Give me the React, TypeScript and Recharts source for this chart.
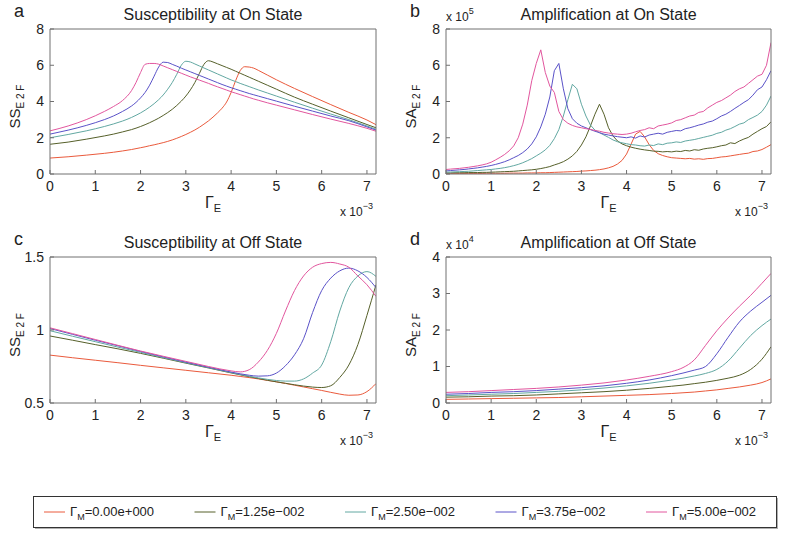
import React from "react";
import { LineChart, Line, XAxis, YAxis } from "recharts";

const FONT = "'Liberation Sans', Arial, Helvetica, sans-serif";
const TEXT = "#222";
const AXIS = "#707070";

const gammaLabels = ["0.00e+000", "1.25e-002", "2.50e-002", "3.75e-002", "5.00e-002"];
const seriesColors = ["#ea5a3c", "#56602a", "#62a8a2", "#5a52c8", "#e2569e"];
const seriesKeys = ["g0", "g1", "g2", "g3", "g4"];

const xTicks = [0, 1, 2, 3, 4, 5, 6, 7];
const yTicksOn = [0, 2, 4, 6, 8];
const yTicksSsOff = [0.5, 1, 1.5];
const yTicksSaOff = [0, 1, 2, 3, 4];

// a: susceptibility, on state
const xSsOn = [0, 0.4, 0.8, 1.2, 1.4, 1.6, 1.8, 1.9, 2.0, 2.1, 2.2, 2.3, 2.4, 2.5, 2.6, 2.7, 2.8, 2.9, 3.0, 3.1, 3.2, 3.3, 3.4, 3.5, 3.6, 3.7, 3.8, 3.9, 4.0, 4.1, 4.2, 4.3, 4.4, 4.5, 4.6, 4.8, 5.0, 5.4, 5.8, 6.2, 6.6, 7.0, 7.2];
const ssOnG0 = [0.88, 0.95, 1.04, 1.14, 1.2, 1.27, 1.35, 1.4, 1.45, 1.5, 1.56, 1.61, 1.67, 1.73, 1.8, 1.88, 1.97, 2.07, 2.18, 2.3, 2.43, 2.58, 2.75, 2.93, 3.14, 3.37, 3.63, 3.97, 4.5, 5.15, 5.7, 5.92, 5.9, 5.84, 5.72, 5.46, 5.2, 4.72, 4.27, 3.83, 3.4, 2.98, 2.72];
const ssOnG1 = [1.64, 1.76, 1.92, 2.1, 2.2, 2.32, 2.45, 2.53, 2.62, 2.72, 2.83, 2.95, 3.08, 3.23, 3.39, 3.57, 3.78, 4.02, 4.3, 4.64, 5.05, 5.55, 6.05, 6.25, 6.18, 6.08, 5.98, 5.88, 5.78, 5.67, 5.56, 5.45, 5.34, 5.23, 5.12, 4.9, 4.68, 4.24, 3.85, 3.47, 3.1, 2.73, 2.55];
const ssOnG2 = [2.0, 2.18, 2.38, 2.62, 2.76, 2.92, 3.12, 3.24, 3.37, 3.52, 3.69, 3.88, 4.1, 4.36, 4.68, 5.05, 5.5, 6.0, 6.22, 6.18, 6.07, 5.96, 5.85, 5.74, 5.63, 5.52, 5.41, 5.3, 5.19, 5.1, 5.0, 4.91, 4.82, 4.73, 4.64, 4.47, 4.3, 3.96, 3.63, 3.31, 3.0, 2.65, 2.47];
const ssOnG3 = [2.2, 2.42, 2.68, 3.0, 3.2, 3.45, 3.75, 3.95, 4.2, 4.5, 4.9, 5.4, 5.9, 6.17, 6.15, 6.05, 5.95, 5.84, 5.74, 5.64, 5.54, 5.44, 5.34, 5.24, 5.14, 5.04, 4.94, 4.85, 4.76, 4.68, 4.6, 4.52, 4.44, 4.37, 4.3, 4.16, 4.02, 3.74, 3.47, 3.2, 2.94, 2.6, 2.42];
const ssOnG4 = [2.38, 2.65, 3.0, 3.45, 3.72, 4.05, 4.6, 5.05, 5.6, 6.05, 6.1, 6.1, 6.06, 5.96, 5.86, 5.76, 5.66, 5.56, 5.46, 5.36, 5.27, 5.18, 5.09, 5.0, 4.9, 4.81, 4.72, 4.63, 4.54, 4.46, 4.38, 4.3, 4.22, 4.14, 4.07, 3.93, 3.8, 3.54, 3.28, 3.03, 2.79, 2.52, 2.36];

// b: amplification, on state (x 10^5)
const xSaOn = [
  0.0, 0.1, 0.2, 0.3, 0.4, 0.5, 0.6, 0.7, 0.8, 0.9,
  1.0, 1.1, 1.2, 1.3, 1.4, 1.5, 1.6, 1.7, 1.8, 1.9,
  2.0, 2.1, 2.2, 2.3, 2.4, 2.5, 2.6, 2.7, 2.8, 2.9,
  3.0, 3.1, 3.2, 3.3, 3.4, 3.5, 3.6, 3.7, 3.8, 3.9,
  4.0, 4.1, 4.2, 4.3, 4.4, 4.5, 4.6, 4.7, 4.8, 4.9,
  5.0, 5.1, 5.2, 5.3, 5.4, 5.5, 5.6, 5.7, 5.8, 5.9,
  6.0, 6.1, 6.2, 6.3, 6.4, 6.5, 6.6, 6.7, 6.8, 6.9,
  7.0, 7.1, 7.2,
];
const saOnG0 = [
  0.02, 0.02, 0.02, 0.03, 0.03, 0.03, 0.03, 0.03, 0.03, 0.04,
  0.04, 0.04, 0.04, 0.04, 0.05, 0.05, 0.05, 0.05, 0.06, 0.06,
  0.06, 0.07, 0.07, 0.08, 0.09, 0.1, 0.11, 0.12, 0.13, 0.14,
  0.16, 0.17, 0.19, 0.21, 0.24, 0.28, 0.34, 0.42, 0.55, 0.75,
  1.1, 1.65, 2.2, 2.35, 2.05, 1.62, 1.3, 1.12, 1.02, 0.95,
  0.9, 0.88, 0.86, 0.84, 0.86, 0.82, 0.84, 0.81, 0.85, 0.86,
  0.9, 0.94, 0.96, 1.0, 1.04, 1.08, 1.12, 1.15, 1.24, 1.27,
  1.35, 1.48, 1.62,
];
const saOnG1 = [
  0.06, 0.06, 0.07, 0.07, 0.07, 0.08, 0.08, 0.08, 0.09, 0.09,
  0.1, 0.11, 0.12, 0.13, 0.14, 0.15, 0.17, 0.19, 0.21, 0.23,
  0.26, 0.3, 0.35, 0.41, 0.5, 0.58, 0.68, 0.82, 1.0, 1.25,
  1.6, 2.05, 2.65, 3.3, 3.85, 3.3, 2.55, 2.1, 1.82, 1.66,
  1.56, 1.48, 1.42, 1.37, 1.33, 1.3, 1.26, 1.25, 1.22, 1.24,
  1.22, 1.26, 1.24, 1.3, 1.27, 1.34, 1.31, 1.38, 1.42, 1.45,
  1.5, 1.56, 1.6, 1.72, 1.68, 1.82, 1.93, 2.02, 2.2, 2.35,
  2.5, 2.62, 2.88,
];
const saOnG2 = [
  0.1, 0.11, 0.12, 0.13, 0.14, 0.15, 0.17, 0.19, 0.21, 0.23,
  0.25, 0.28, 0.31, 0.35, 0.4, 0.46, 0.53, 0.62, 0.73, 0.85,
  1.0, 1.15, 1.33, 1.58, 1.95, 2.45, 3.2, 4.1, 4.95, 4.7,
  3.85, 3.2, 2.7, 2.42, 2.28, 2.15, 2.02, 1.88, 1.78, 1.72,
  1.67, 1.62, 1.6, 1.56, 1.54, 1.6, 1.57, 1.66, 1.62, 1.7,
  1.72, 1.77, 1.74, 1.82, 1.86, 1.9, 1.96, 2.02, 2.08, 2.14,
  2.24, 2.3, 2.42, 2.5, 2.62, 2.75, 2.82, 3.0, 3.12, 3.25,
  3.45, 3.8, 4.3,
];
const saOnG3 = [
  0.17, 0.19, 0.21, 0.23, 0.25, 0.28, 0.31, 0.34, 0.38, 0.42,
  0.47, 0.53, 0.6, 0.68, 0.78, 0.9, 1.02, 1.18, 1.38, 1.66,
  2.05, 2.6, 3.3, 4.25, 5.7, 6.1, 4.7, 3.6, 3.05, 2.8,
  2.65, 2.55, 2.45, 2.36, 2.28, 2.2, 2.15, 2.1, 2.06, 2.03,
  2.0, 2.05, 1.98, 2.1, 2.04, 2.15, 2.2, 2.25, 2.2, 2.3,
  2.35, 2.4, 2.38, 2.5, 2.55, 2.62, 2.7, 2.76, 2.86, 2.92,
  3.05, 3.2, 3.3, 3.45, 3.62, 3.78, 3.95, 4.1, 4.35, 4.65,
  4.8, 5.2, 5.7,
];
const saOnG4 = [
  0.25, 0.27, 0.29, 0.31, 0.34, 0.37, 0.41, 0.45, 0.5, 0.56,
  0.65, 0.78, 0.92, 1.08, 1.28, 1.55, 2.0, 2.75, 3.8, 5.15,
  6.1, 6.85, 5.6, 4.85, 4.5, 3.45, 3.0, 2.8, 2.68, 2.6,
  2.55, 2.5, 2.46, 2.4, 2.36, 2.3, 2.26, 2.22, 2.2, 2.18,
  2.2, 2.25, 2.33, 2.4, 2.45, 2.55, 2.5, 2.65, 2.7, 2.75,
  2.82, 2.95, 3.0, 3.1, 3.2, 3.25, 3.4, 3.45, 3.65, 3.8,
  3.95, 4.05, 4.2, 4.35, 4.55, 4.7, 4.8, 5.0, 5.2, 5.4,
  5.5, 6.0, 7.25,
];

// c: susceptibility, off state
const xSsOff = [0, 0.5, 1, 1.5, 2, 2.5, 3, 3.5, 4, 4.2, 4.4, 4.6, 4.8, 5.0, 5.2, 5.4, 5.6, 5.8, 6.0, 6.2, 6.4, 6.6, 6.8, 7.0, 7.2];
const ssOffG0 = [0.828, 0.81, 0.793, 0.776, 0.758, 0.741, 0.724, 0.707, 0.69, 0.682, 0.674, 0.665, 0.655, 0.645, 0.634, 0.622, 0.61, 0.598, 0.586, 0.573, 0.561, 0.553, 0.555, 0.578, 0.633];
const ssOffG1 = [0.959, 0.93, 0.9, 0.871, 0.84, 0.807, 0.773, 0.74, 0.706, 0.693, 0.68, 0.668, 0.656, 0.645, 0.635, 0.625, 0.616, 0.609, 0.606, 0.618, 0.675, 0.76, 0.9, 1.1, 1.31];
const ssOffG2 = [0.995, 0.957, 0.92, 0.883, 0.847, 0.811, 0.776, 0.742, 0.708, 0.695, 0.683, 0.672, 0.662, 0.654, 0.65, 0.65, 0.665, 0.705, 0.76, 0.92, 1.13, 1.29, 1.37, 1.4, 1.367];
const ssOffG3 = [1.01, 0.97, 0.93, 0.892, 0.853, 0.816, 0.78, 0.745, 0.712, 0.7, 0.69, 0.684, 0.686, 0.705, 0.755, 0.83, 0.94, 1.12, 1.27, 1.355, 1.405, 1.424, 1.405, 1.36, 1.29];
const ssOffG4 = [1.015, 0.975, 0.935, 0.895, 0.856, 0.82, 0.785, 0.75, 0.72, 0.713, 0.728, 0.78, 0.86, 0.977, 1.13, 1.27, 1.37, 1.43, 1.455, 1.463, 1.452, 1.43, 1.37, 1.31, 1.23];

// d: amplification, off state (x 10^4)
const xSaOff = [0, 0.5, 1, 1.5, 2, 2.5, 3, 3.5, 4, 4.5, 5, 5.25, 5.5, 5.75, 6, 6.25, 6.5, 6.75, 7, 7.2];
const saOffG0 = [0.1, 0.11, 0.12, 0.13, 0.14, 0.15, 0.17, 0.19, 0.21, 0.23, 0.26, 0.28, 0.3, 0.33, 0.36, 0.4, 0.44, 0.49, 0.56, 0.66];
const saOffG1 = [0.16, 0.17, 0.19, 0.2, 0.22, 0.25, 0.28, 0.31, 0.35, 0.4, 0.46, 0.49, 0.53, 0.57, 0.62, 0.68, 0.76, 0.92, 1.2, 1.54];
const saOffG2 = [0.2, 0.22, 0.24, 0.26, 0.29, 0.32, 0.36, 0.41, 0.47, 0.54, 0.63, 0.68, 0.74, 0.81, 0.92, 1.15, 1.5, 1.85, 2.12, 2.3];
const saOffG3 = [0.24, 0.26, 0.29, 0.31, 0.34, 0.38, 0.42, 0.47, 0.54, 0.63, 0.75, 0.82, 0.9, 1.0, 1.35, 1.8, 2.22, 2.52, 2.76, 2.95];
const saOffG4 = [0.29, 0.31, 0.34, 0.37, 0.4, 0.44, 0.49, 0.55, 0.63, 0.73, 0.86, 0.97, 1.18, 1.58, 1.98, 2.33, 2.65, 2.95, 3.28, 3.55];

const toRows = (x: number[], series: number[][]) =>
  x.map((v, i) => {
    const row: Record<string, number> = { x: v };
    series.forEach((s, k) => {
      row[seriesKeys[k]] = s[i];
    });
    return row;
  });

const rowsA = toRows(xSsOn, [ssOnG0, ssOnG1, ssOnG2, ssOnG3, ssOnG4]);
const rowsB = toRows(xSaOn, [saOnG0, saOnG1, saOnG2, saOnG3, saOnG4]);
const rowsC = toRows(xSsOff, [ssOffG0, ssOffG1, ssOffG2, ssOffG3, ssOffG4]);
const rowsD = toRows(xSaOff, [saOffG0, saOffG1, saOffG2, saOffG3, saOffG4]);

const ML = 50;
const MT = 10;
const MR = 10;
const XH = 40;

interface PanelProps {
  left: number;
  top: number;
  w: number;
  h: number;
  rows: Record<string, number>[];
  yDomain: [number, number];
  yTicks: number[];
  curve: "linear" | "monotone";
}

const tickStyle = { fill: TEXT, fontSize: 14, fontFamily: FONT };

const Panel: React.FC<PanelProps> = ({ left, top, w, h, rows, yDomain, yTicks, curve }) => (
  <div style={{ position: "absolute", left: left - ML, top: top - MT }}>
    <LineChart
      width={ML + w + MR}
      height={MT + h + XH}
      data={rows}
      margin={{ top: MT - 1, right: MR - 1, bottom: 0, left: 0 }}
    >
      <XAxis
        xAxisId="bottom"
        dataKey="x"
        type="number"
        domain={[0, 7.2]}
        ticks={xTicks}
        interval={0}
        allowDataOverflow
        height={XH}
        tickSize={-4}
        tickMargin={11}
        stroke={AXIS}
        tick={tickStyle}
      />
      <XAxis
        xAxisId="top"
        orientation="top"
        type="number"
        domain={[0, 7.2]}
        ticks={xTicks}
        interval={0}
        allowDataOverflow
        height={1}
        tickSize={-4}
        tick={false}
        stroke={AXIS}
      />
      <YAxis
        yAxisId="left"
        type="number"
        domain={yDomain}
        ticks={yTicks}
        interval={0}
        allowDataOverflow
        width={ML}
        tickSize={-4}
        tickMargin={10}
        stroke={AXIS}
        tick={tickStyle}
      />
      <YAxis
        yAxisId="right"
        orientation="right"
        type="number"
        domain={yDomain}
        ticks={yTicks}
        interval={0}
        allowDataOverflow
        width={1}
        tickSize={-4}
        tick={false}
        stroke={AXIS}
      />
      {seriesKeys.map((k, i) => (
        <Line
          key={k}
          xAxisId="bottom"
          yAxisId="left"
          dataKey={k}
          type={curve}
          stroke={seriesColors[i]}
          strokeWidth={1}
          dot={false}
          activeDot={false}
          isAnimationActive={false}
        />
      ))}
    </LineChart>
  </div>
);

interface LabelSet {
  letter: string;
  title: string;
  yName: string;
  exp?: string;
  left: number;
  top: number;
  w: number;
  h: number;
}

const panels: LabelSet[] = [
  { letter: "a", title: "Susceptibility at On State", yName: "SS", left: 50, top: 29, w: 326, h: 145 },
  { letter: "b", title: "Amplification at On State", yName: "SA", exp: "5", left: 446, top: 29, w: 325, h: 145 },
  { letter: "c", title: "Susceptibility at Off State", yName: "SS", left: 50, top: 257, w: 326, h: 146 },
  { letter: "d", title: "Amplification at Off State", yName: "SA", exp: "4", left: 446, top: 257, w: 325, h: 146 },
];

const Annotations = () => (
  <svg
    width={787}
    height={548}
    style={{ position: "absolute", left: 0, top: 0, pointerEvents: "none" }}
    fontFamily={FONT}
    fill={TEXT}
  >
    {panels.map((p) => {
      const cx = p.left + p.w / 2;
      const bottom = p.top + p.h;
      return (
        <g key={p.letter}>
          <text x={p.left - 36} y={p.top - 12} fontSize={18}>
            {p.letter}
          </text>
          <text x={cx} y={p.top - 9} fontSize={16} textAnchor="middle">
            {p.title}
          </text>
          {p.exp && (
            <text x={p.left} y={p.top - 8} fontSize={12}>
              x 10
              <tspan fontSize={9} dy={-7}>
                {p.exp}
              </tspan>
            </text>
          )}
          <text x={cx} y={bottom + 34} fontSize={16} textAnchor="middle">
            Γ
            <tspan fontSize={11} dy={4}>
              E
            </tspan>
          </text>
          <text x={p.left + p.w - 36} y={bottom + 42} fontSize={12}>
            x 10
            <tspan fontSize={9} dy={-7}>
              −3
            </tspan>
          </text>
          <text
            transform={`translate(${p.left - 30},${p.top + p.h / 2 + 5}) rotate(-90)`}
            fontSize={15}
            textAnchor="middle"
          >
            {p.yName}
            <tspan fontSize={10} dy={4}>
              E 2 F
            </tspan>
          </text>
        </g>
      );
    })}
    <rect x={35} y={498} width={743} height={31} fill="#b0b0b0" />
    <rect x={33.5} y={496.5} width={743} height={31} fill="#fff" stroke="#333" />
    {gammaLabels.map((g, i) => {
      const x0 = 44 + i * 150.5;
      return (
        <g key={g}>
          <line x1={x0} x2={x0 + 21} y1={512} y2={512} stroke={seriesColors[i]} strokeWidth={1} />
          <text x={x0 + 26} y={516} fontSize={13}>
            Γ
            <tspan fontSize={9} dy={4}>
              M
            </tspan>
            <tspan dy={-4}>={g.replace(/-/g, "−")}</tspan>
          </text>
        </g>
      );
    })}
  </svg>
);

export default function App() {
  return (
    <div
      style={{
        position: "absolute",
        left: 0,
        top: 0,
        width: 787,
        height: 548,
        background: "#fff",
        fontFamily: FONT,
      }}
    >
      <Panel left={50} top={29} w={326} h={145} rows={rowsA} yDomain={[0, 8]} yTicks={yTicksOn} curve="monotone" />
      <Panel left={446} top={29} w={325} h={145} rows={rowsB} yDomain={[0, 8]} yTicks={yTicksOn} curve="linear" />
      <Panel left={50} top={257} w={326} h={146} rows={rowsC} yDomain={[0.5, 1.5]} yTicks={yTicksSsOff} curve="monotone" />
      <Panel left={446} top={257} w={325} h={146} rows={rowsD} yDomain={[0, 4]} yTicks={yTicksSaOff} curve="monotone" />
      <Annotations />
    </div>
  );
}
